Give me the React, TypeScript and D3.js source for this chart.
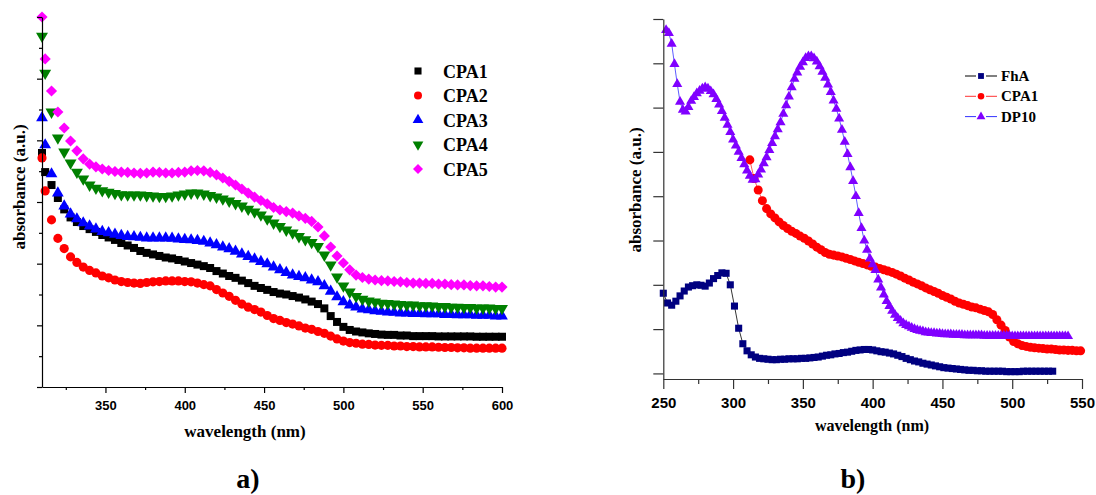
import React, { useEffect, useRef } from "react";
import * as d3 from "d3";

// ---------- panel a) : CPA1..CPA5, wavelength (nm) 310, then 312..600 every 4 nm
const waveA = [310, ...d3.range(312, 601, 4)];

const cpa1A = [0.759,
  0.697, 0.655, 0.613, 0.576, 0.550, 0.535, 0.522, 0.512, 0.503, 0.493,
  0.485, 0.477, 0.467, 0.459, 0.451, 0.441, 0.435, 0.430, 0.425, 0.420,
  0.417, 0.412, 0.407, 0.402, 0.397, 0.392, 0.386, 0.376, 0.368, 0.360,
  0.354, 0.345, 0.337, 0.328, 0.321, 0.315, 0.308, 0.303, 0.300, 0.295,
  0.290, 0.284, 0.277, 0.269, 0.255, 0.230, 0.211, 0.195, 0.185, 0.180,
  0.177, 0.174, 0.172, 0.170, 0.169, 0.169, 0.167, 0.167, 0.165, 0.165,
  0.165, 0.165, 0.164, 0.164, 0.164, 0.164, 0.164, 0.164, 0.163, 0.163,
  0.163, 0.163, 0.163];

const cpa2A = [0.743,
  0.636, 0.542, 0.482, 0.449, 0.422, 0.404, 0.389, 0.378, 0.370, 0.360,
  0.354, 0.347, 0.342, 0.339, 0.337, 0.336, 0.339, 0.341, 0.342, 0.344,
  0.344, 0.344, 0.342, 0.341, 0.337, 0.332, 0.328, 0.316, 0.305, 0.294,
  0.281, 0.269, 0.259, 0.251, 0.243, 0.232, 0.222, 0.216, 0.209, 0.204,
  0.198, 0.191, 0.187, 0.180, 0.174, 0.165, 0.156, 0.149, 0.144, 0.142,
  0.139, 0.138, 0.136, 0.135, 0.135, 0.133, 0.133, 0.131, 0.131, 0.130,
  0.130, 0.130, 0.129, 0.128, 0.128, 0.127, 0.127, 0.126, 0.126, 0.126,
  0.126, 0.126, 0.126];

const cpa3A = [0.873,
  0.785, 0.691, 0.629, 0.587, 0.561, 0.545, 0.532, 0.522, 0.512, 0.504,
  0.500, 0.495, 0.491, 0.488, 0.487, 0.485, 0.483, 0.483, 0.483, 0.483,
  0.482, 0.480, 0.478, 0.477, 0.475, 0.472, 0.467, 0.461, 0.454, 0.448,
  0.440, 0.431, 0.423, 0.415, 0.407, 0.399, 0.389, 0.380, 0.371, 0.363,
  0.358, 0.354, 0.347, 0.341, 0.328, 0.310, 0.292, 0.276, 0.266, 0.259,
  0.253, 0.250, 0.247, 0.245, 0.243, 0.242, 0.240, 0.240, 0.238, 0.238,
  0.237, 0.237, 0.237, 0.235, 0.235, 0.234, 0.234, 0.234, 0.232, 0.232,
  0.232, 0.230, 0.230];

const cpa4A = [1.138,
  1.018, 0.892, 0.808, 0.762, 0.727, 0.697, 0.675, 0.655, 0.645, 0.637,
  0.632, 0.628, 0.624, 0.623, 0.623, 0.623, 0.621, 0.620, 0.618, 0.618,
  0.620, 0.623, 0.626, 0.629, 0.629, 0.626, 0.621, 0.616, 0.610, 0.603,
  0.595, 0.587, 0.577, 0.568, 0.558, 0.545, 0.532, 0.521, 0.509, 0.500,
  0.488, 0.478, 0.469, 0.456, 0.428, 0.396, 0.357, 0.328, 0.308, 0.294,
  0.285, 0.279, 0.276, 0.272, 0.271, 0.269, 0.268, 0.266, 0.266, 0.264,
  0.264, 0.263, 0.261, 0.261, 0.259, 0.259, 0.258, 0.258, 0.256, 0.256,
  0.256, 0.255, 0.255];

const cpa5A = [1.2,
  1.064, 0.960, 0.892, 0.840, 0.798, 0.766, 0.740, 0.723, 0.714, 0.707,
  0.702, 0.699, 0.697, 0.696, 0.694, 0.693, 0.694, 0.697, 0.696, 0.694,
  0.694, 0.696, 0.697, 0.701, 0.702, 0.701, 0.696, 0.688, 0.678, 0.667,
  0.655, 0.642, 0.629, 0.616, 0.605, 0.594, 0.582, 0.574, 0.569, 0.564,
  0.555, 0.547, 0.537, 0.519, 0.490, 0.454, 0.425, 0.402, 0.380, 0.363,
  0.355, 0.350, 0.347, 0.345, 0.344, 0.342, 0.341, 0.339, 0.337, 0.337,
  0.336, 0.336, 0.334, 0.334, 0.332, 0.331, 0.331, 0.329, 0.328, 0.328,
  0.326, 0.324, 0.324];

const xTicksA = [350, 400, 450, 500, 550, 600];
const xMinorA = [325, 375, 425, 475, 525, 575];
const yTicksA = [0, 0.2, 0.4, 0.6, 0.8, 1.0, 1.2];
const yMinorA = [0.1, 0.3, 0.5, 0.7, 0.9, 1.1];

// ---------- panel b) : FhA, CPA1, DP10
const waveFhA = d3.range(250, 530, 3);
const fha = [
  0.181, 0.159, 0.154, 0.163, 0.175, 0.186, 0.195, 0.198, 0.200, 0.199,
  0.197, 0.204, 0.214, 0.221, 0.227, 0.226, 0.200, 0.152, 0.102, 0.067,
  0.051, 0.042, 0.037, 0.034, 0.033, 0.032, 0.031, 0.031, 0.032, 0.032,
  0.033, 0.033, 0.033, 0.034, 0.034, 0.035, 0.036, 0.037, 0.039, 0.041,
  0.042, 0.044, 0.045, 0.047, 0.048, 0.050, 0.052, 0.053, 0.054, 0.054,
  0.053, 0.051, 0.049, 0.048, 0.046, 0.044, 0.041, 0.038, 0.034, 0.031,
  0.028, 0.026, 0.023, 0.021, 0.019, 0.017, 0.015, 0.013, 0.012, 0.011,
  0.010, 0.009, 0.008, 0.007, 0.007, 0.006, 0.006, 0.005, 0.005, 0.005,
  0.005, 0.005, 0.004, 0.004, 0.004, 0.004, 0.005, 0.005, 0.005, 0.005,
  0.005, 0.005, 0.005, 0.005];

const waveCpa1B = d3.range(312, 550, 3);
const cpa1B = [
  0.482, 0.440, 0.414, 0.390, 0.372, 0.360, 0.351, 0.342, 0.334, 0.327,
  0.321, 0.316, 0.310, 0.305, 0.299, 0.292, 0.285, 0.279, 0.273, 0.269,
  0.267, 0.265, 0.263, 0.260, 0.257, 0.254, 0.251, 0.248, 0.245, 0.242,
  0.240, 0.237, 0.234, 0.231, 0.228, 0.224, 0.220, 0.215, 0.211, 0.206,
  0.202, 0.198, 0.193, 0.189, 0.185, 0.181, 0.176, 0.172, 0.168, 0.163,
  0.159, 0.156, 0.153, 0.150, 0.148, 0.145, 0.142, 0.139, 0.133, 0.121,
  0.109, 0.097, 0.082, 0.072, 0.067, 0.063, 0.061, 0.059, 0.058, 0.057,
  0.056, 0.055, 0.055, 0.054, 0.053, 0.053, 0.052, 0.052, 0.051, 0.051];

const waveDp10 = d3.range(252, 541, 2);
const dp10 = [
  0.775, 0.768, 0.744, 0.698, 0.653, 0.613, 0.595, 0.591, 0.601, 0.615,
  0.624, 0.632, 0.638, 0.643, 0.646, 0.643, 0.637, 0.630, 0.619, 0.607,
  0.592, 0.577, 0.561, 0.545, 0.528, 0.514, 0.500, 0.486, 0.472, 0.458,
  0.446, 0.437, 0.438, 0.449, 0.460, 0.474, 0.488, 0.504, 0.520, 0.535,
  0.551, 0.567, 0.586, 0.605, 0.625, 0.646, 0.665, 0.679, 0.692, 0.702,
  0.712, 0.716, 0.716, 0.711, 0.704, 0.693, 0.681, 0.667, 0.652, 0.635,
  0.616, 0.597, 0.575, 0.550, 0.523, 0.495, 0.465, 0.434, 0.400, 0.362,
  0.328, 0.300, 0.279, 0.259, 0.246, 0.233, 0.212, 0.194, 0.178, 0.163,
  0.152, 0.141, 0.132, 0.125, 0.119, 0.113, 0.109, 0.106, 0.103, 0.100,
  0.098, 0.096, 0.095, 0.093, 0.092, 0.091, 0.091, 0.090, 0.090, 0.089,
  0.088, 0.088, 0.088, 0.087, 0.087, 0.087, 0.087, 0.086, 0.086, 0.086,
  0.086, 0.086, 0.086, 0.086, 0.085, 0.085, 0.085, 0.085, 0.085, 0.085,
  0.085, 0.085, 0.085, 0.085, 0.084, 0.084, 0.084, 0.084, 0.084, 0.084,
  0.084, 0.084, 0.084, 0.084, 0.084, 0.084, 0.084, 0.084, 0.084, 0.084,
  0.084, 0.084, 0.084, 0.084, 0.084];

const xTicksB = [250, 300, 350, 400, 450, 500, 550];
const xMinorB = [275, 325, 375, 425, 475, 525];
const yTicksB = [0, 0.1, 0.2, 0.3, 0.4, 0.5, 0.6, 0.7, 0.8];

const SERIF = "'Liberation Serif', 'Times New Roman', serif";
const SANS = "'Liberation Sans', Arial, sans-serif";

function symbolPath(shape: string, size: number) {
  const type = shape === "circle" ? d3.symbolCircle
    : shape === "square" || shape === "diamond" ? d3.symbolSquare
    : d3.symbolTriangle;
  return d3.symbol().type(type).size(size)() as string;
}
function symbolRotate(shape: string) {
  return shape === "down" ? 180 : shape === "diamond" ? 45 : 0;
}

function styleAxis(g: any, color: string, fontSize: number) {
  g.attr("font-family", SANS).attr("font-size", fontSize).attr("font-weight", "bold");
  g.select(".domain").attr("stroke", color).attr("stroke-width", 1.2);
  g.selectAll(".tick line").attr("stroke", color).attr("stroke-width", 1.2);
  g.selectAll(".tick text").attr("fill", "#000");
}

function drawPanelA(svg: any) {
  const x = d3.scaleLinear().domain([310, 600]).range([42, 502]);
  const y = d3.scaleLinear().domain([0, 1.2]).range([387, 17]);

  const series = [
    { name: "CPA1", values: cpa1A, color: "#000000", shape: "square", size: 64 },
    { name: "CPA2", values: cpa2A, color: "#ff0000", shape: "circle", size: 66 },
    { name: "CPA3", values: cpa3A, color: "#0000ff", shape: "triangle", size: 60 },
    { name: "CPA4", values: cpa4A, color: "#008000", shape: "down", size: 62 },
    { name: "CPA5", values: cpa5A, color: "#ff00ff", shape: "diamond", size: 62 },
  ];

  const plot = svg.append("g");
  series.forEach((s) => {
    const pts = waveA.map((w, i) => [w, s.values[i]]);
    plot.append("g")
      .selectAll("path")
      .data(pts)
      .enter()
      .append("path")
      .attr("d", symbolPath(s.shape, s.size))
      .attr("fill", s.color)
      .attr("transform", (d: number[]) => `translate(${x(d[0])},${y(d[1])}) rotate(${symbolRotate(s.shape)})`);
  });

  // axes
  const gx = svg.append("g").attr("transform", "translate(0,387)")
    .call(d3.axisBottom(x).tickValues(xTicksA).tickSize(6).tickSizeOuter(0).tickPadding(8).tickFormat(d3.format("d")));
  styleAxis(gx, "#000", 13);
  const gxm = svg.append("g").attr("transform", "translate(0,387)")
    .call(d3.axisBottom(x).tickValues(xMinorA).tickSize(3).tickFormat(() => ""));
  gxm.select(".domain").remove();
  styleAxis(gxm, "#000", 13);

  const gy = svg.append("g").attr("transform", "translate(42,0)")
    .call(d3.axisLeft(y).tickValues(yTicksA).tickSize(5).tickSizeOuter(0).tickFormat(() => ""));
  styleAxis(gy, "#000", 13);
  const gym = svg.append("g").attr("transform", "translate(42,0)")
    .call(d3.axisLeft(y).tickValues(yMinorA).tickSize(3).tickFormat(() => ""));
  gym.select(".domain").remove();
  styleAxis(gym, "#000", 13);

  // labels
  svg.append("text").attr("x", 245).attr("y", 437).attr("text-anchor", "middle")
    .attr("font-family", SERIF).attr("font-weight", "bold").attr("font-size", 17)
    .text("wavelength (nm)");
  svg.append("text").attr("transform", "translate(25,187) rotate(-90)").attr("text-anchor", "middle")
    .attr("font-family", SERIF).attr("font-weight", "bold").attr("font-size", 17)
    .text("absorbance (a.u.)");
  svg.append("text").attr("x", 248).attr("y", 488).attr("text-anchor", "middle")
    .attr("font-family", SERIF).attr("font-weight", "bold").attr("font-size", 28)
    .text("a)");

  // legend
  const leg = svg.append("g");
  series.forEach((s, i) => {
    const cy = 71 + i * 24.5;
    leg.append("path").attr("d", symbolPath(s.shape, 50)).attr("fill", s.color)
      .attr("transform", `translate(418,${cy}) rotate(${symbolRotate(s.shape)})`);
    leg.append("text").attr("x", 443).attr("y", cy + 6.5)
      .attr("font-family", SERIF).attr("font-weight", "bold").attr("font-size", 18)
      .text(s.name);
  });
}

function drawPanelB(svg: any) {
  const x = d3.scaleLinear().domain([250, 550]).range([663.3, 1082]);
  const y = d3.scaleLinear().domain([-0.0126, 0.8]).range([379, 19]);

  const series = [
    { name: "FhA", wave: waveFhA, values: fha, color: "#000080", line: "#000000", shape: "square", size: 50 },
    { name: "CPA1", wave: waveCpa1B, values: cpa1B, color: "#ff0000", line: "#ff3333", shape: "circle", size: 64 },
    { name: "DP10", wave: waveDp10, values: dp10, color: "#8000ff", line: "#3333ff", shape: "triangle", size: 44 },
  ];

  const line = d3.line<number[]>().x((d) => x(d[0])).y((d) => y(d[1]));
  const plot = svg.append("g");
  series.forEach((s) => {
    const pts = s.wave.map((w, i) => [w, s.values[i]]);
    const g = plot.append("g");
    g.append("path").attr("d", line(pts)).attr("fill", "none")
      .attr("stroke", s.line).attr("stroke-width", 0.8);
    g.selectAll("path.m")
      .data(pts)
      .enter()
      .append("path")
      .attr("class", "m")
      .attr("d", symbolPath(s.shape, s.size))
      .attr("fill", s.color)
      .attr("transform", (d: number[]) => `translate(${x(d[0])},${y(d[1])})`);
  });

  const axisColor = "#333";
  const gx = svg.append("g").attr("transform", "translate(0,379)")
    .call(d3.axisBottom(x).tickValues(xTicksB).tickSize(10).tickSizeOuter(0).tickPadding(8).tickFormat(d3.format("d")));
  styleAxis(gx, axisColor, 15);
  const gxm = svg.append("g").attr("transform", "translate(0,379)")
    .call(d3.axisBottom(x).tickValues(xMinorB).tickSize(5).tickFormat(() => ""));
  gxm.select(".domain").remove();
  styleAxis(gxm, axisColor, 15);

  const gy = svg.append("g").attr("transform", "translate(663.3,0)")
    .call(d3.axisLeft(y).tickValues(yTicksB).tickSize(10).tickSizeOuter(0).tickFormat(() => ""));
  styleAxis(gy, axisColor, 15);

  svg.append("text").attr("x", 872).attr("y", 431).attr("text-anchor", "middle")
    .attr("font-family", SERIF).attr("font-weight", "bold").attr("font-size", 16)
    .text("wavelength (nm)");
  svg.append("text").attr("transform", "translate(641,190) rotate(-90)").attr("text-anchor", "middle")
    .attr("font-family", SERIF).attr("font-weight", "bold").attr("font-size", 17)
    .text("absorbance (a.u.)");
  svg.append("text").attr("x", 853).attr("y", 488).attr("text-anchor", "middle")
    .attr("font-family", SERIF).attr("font-weight", "bold").attr("font-size", 28)
    .text("b)");

  // legend
  const leg = svg.append("g");
  series.forEach((s, i) => {
    const cy = 76 + i * 20.3;
    leg.append("line").attr("x1", 965).attr("x2", 976).attr("y1", cy).attr("y2", cy)
      .attr("stroke", s.line).attr("stroke-width", 1);
    leg.append("line").attr("x1", 986).attr("x2", 997).attr("y1", cy).attr("y2", cy)
      .attr("stroke", s.line).attr("stroke-width", 1);
    leg.append("path").attr("d", symbolPath(s.shape, 34)).attr("fill", s.color)
      .attr("transform", `translate(981,${cy})`);
    leg.append("text").attr("x", 1001).attr("y", cy + 5)
      .attr("font-family", SERIF).attr("font-weight", "bold").attr("font-size", 15)
      .text(s.name);
  });
}

export default function App() {
  const ref = useRef<SVGSVGElement>(null);

  useEffect(() => {
    document.body.style.margin = "0";
    const svg = d3.select(ref.current);
    svg.selectAll("*").remove();
    drawPanelA(svg);
    drawPanelB(svg);
  }, []);

  return <svg ref={ref} width={1096} height={495} style={{ display: "block", background: "#fff" }} />;
}
